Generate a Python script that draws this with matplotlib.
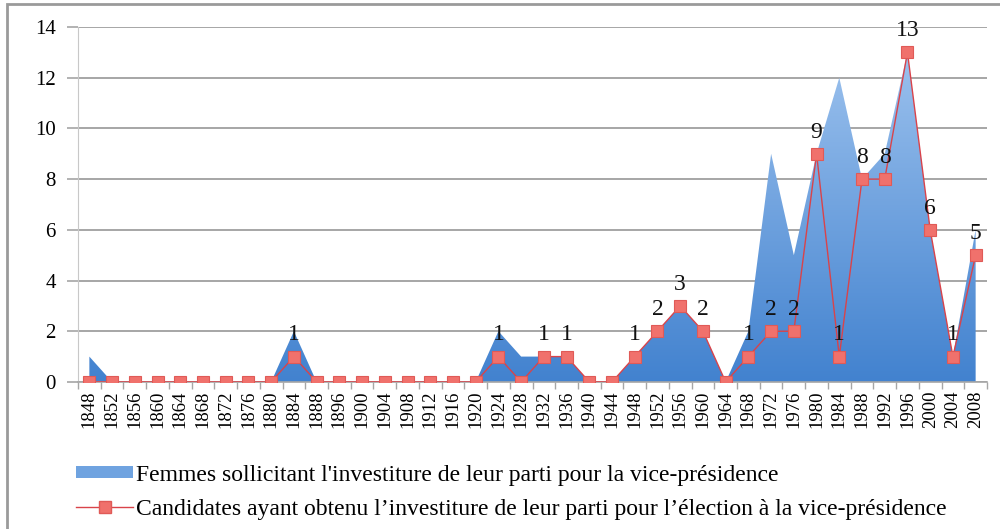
import matplotlib
matplotlib.use('Agg')
import matplotlib.pyplot as plt
from matplotlib.patches import Rectangle, Patch
from matplotlib.lines import Line2D
import numpy as np

# Données
annees = ['1848', '1852', '1856', '1860', '1864', '1868', '1872', '1876', '1880', '1884',
          '1888', '1896', '1900', '1904', '1908', '1912', '1916', '1920', '1924', '1928',
          '1932', '1936', '1940', '1944', '1948', '1952', '1956', '1960', '1964', '1968',
          '1972', '1976', '1980', '1984', '1988', '1992', '1996', '2000', '2004', '2008']
femmes_sollicitant = [1, 0, 0, 0, 0, 0, 0, 0, 0, 2,
                      0, 0, 0, 0, 0, 0, 0, 0, 2, 1,
                      1, 1, 0, 0, 1, 2, 3, 2, 0, 2,
                      9, 5, 9, 12, 8, 9, 13, 6, 1, 6]
candidates_investies = [0, 0, 0, 0, 0, 0, 0, 0, 0, 1,
                        0, 0, 0, 0, 0, 0, 0, 0, 1, 0,
                        1, 1, 0, 0, 1, 2, 3, 2, 0, 1,
                        2, 2, 9, 1, 8, 8, 13, 6, 1, 5]
label_aire = "Femmes sollicitant l'investiture de leur parti pour la vice-présidence"
label_ligne = "Candidates ayant obtenu l\u2019investiture de leur parti pour l\u2019élection à la vice-présidence"

serif = ['Liberation Serif', 'DejaVu Serif']
x = np.arange(len(annees))

fig = plt.figure(figsize=(10, 5.29), dpi=100)
ax = fig.add_axes([0.078, 0.278, 0.909, 0.671])

# Aire avec dégradé bleu (foncé en bas, clair en haut)
poly = ax.fill_between(x, 0, femmes_sollicitant, color='none', lw=0, zorder=2)
grad = np.linspace(0, 1, 256).reshape(-1, 1)
cmap = matplotlib.colors.LinearSegmentedColormap.from_list('bleu', ['#4282cf', '#a2c6f0'])
img = ax.imshow(grad, extent=[0, len(annees) - 1, 0, 14], aspect='auto', cmap=cmap,
                origin='lower', zorder=2)
img.set_clip_path(poly.get_paths()[0], transform=ax.transData)

# Ligne avec marqueurs carrés
ax.plot(x, candidates_investies, color='#d9434a', lw=1, marker='s', markersize=8,
        markerfacecolor='#f0716c', markeredgecolor='#e05a57', markeredgewidth=0.8, zorder=4)
for xi, v in zip(x, candidates_investies):
    if v > 0:
        ax.annotate(str(v), (xi, v), xytext=(0, 8), textcoords='offset points',
                    ha='center', va='bottom', fontsize=17, family=serif, color='#111111',
                    zorder=5)

ax.set_xlim(-0.5, len(annees) - 0.5)
ax.set_ylim(0, 14)
ax.set_yticks(range(0, 15, 2))
ax.set_yticklabels([str(v) for v in range(0, 15, 2)], family=serif, fontsize=15)
ax.set_xticks(x)
ax.set_xticklabels(annees, rotation=90, family=serif, fontsize=13.5)
ax.set_xticks(np.arange(-0.5, len(annees), 1), minor=True)
ax.tick_params(axis='x', which='major', length=0, pad=6)
ax.tick_params(axis='x', which='minor', length=5, color='#a6a6a6', width=1)
ax.tick_params(axis='y', length=8, color='#a6a6a6', width=1.2, pad=8)
ax.yaxis.grid(True, color='#a6a6a6', lw=1.4, zorder=1)
ax.set_axisbelow(True)
for s in ['top', 'right']:
    ax.spines[s].set_visible(False)
ax.spines['left'].set_color('#c8c8c8')
ax.spines['bottom'].set_color('#a6a6a6')
ax.spines['bottom'].set_linewidth(1.2)

# Légende
handles = [Patch(facecolor='#6fa3e0', edgecolor='none'),
           Line2D([], [], color='#d9434a', lw=1, marker='s', markersize=8,
                  markerfacecolor='#f0716c', markeredgecolor='#e05a57')]
fig.legend(handles, [label_aire, label_ligne], loc='upper left',
           bbox_to_anchor=(0.055, 0.162), frameon=False, handlelength=2.4,
           handleheight=0.45, handletextpad=0.15, labelspacing=0.55,
           prop={'family': serif, 'size': 17})

# Cadre
fig.patches.append(Rectangle((0.007, -0.1), 1.2, 1.092, transform=fig.transFigure,
                             fill=False, edgecolor='#9a9a9a', lw=2))

fig.savefig('out.png', dpi=100)
